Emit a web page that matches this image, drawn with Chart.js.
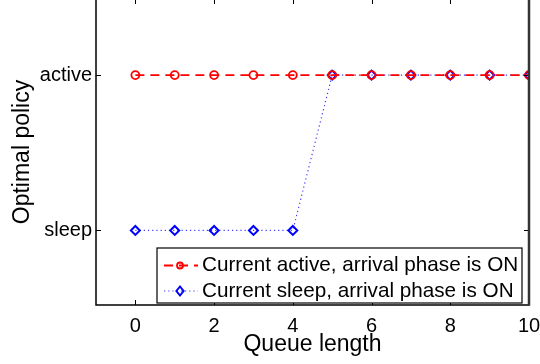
<!DOCTYPE html>
<html>
<head>
<meta charset="utf-8">
<script src="https://cdn.jsdelivr.net/npm/chart.js@4/dist/chart.umd.min.js"></script>
<style>
  html, body { margin: 0; padding: 0; background: #ffffff; }
  #wrap { position: relative; width: 540px; height: 364px; overflow: hidden; background: #fff; }
  #chart { position: absolute; left: 0; top: -4px; }
</style>
</head>
<body>
<div id="wrap"><canvas id="chart" width="540" height="368"></canvas></div>
<script>
// Queue lengths on the x axis
const queueLength = [0, 1, 2, 3, 4, 5, 6, 7, 8, 9, 10];
// Optimal policy: 0 = sleep, 1 = active
const activeOnPolicy = [1, 1, 1, 1, 1, 1, 1, 1, 1, 1, 1];
const sleepOnPolicy  = [0, 0, 0, 0, 0, 1, 1, 1, 1, 1, 1];
// Tick values and labels
const xTickValues = [0, 2, 4, 6, 8, 10];
const yTickValues = [0, 1];
const yTickLabels = ['sleep', 'active'];
const seriesNames = ['Current active, arrival phase is ON', 'Current sleep, arrival phase is ON'];

const FONT = '"Liberation Sans", Arial, Helvetica, sans-serif';

function toPoints(xs, ys) { return xs.map((x, i) => ({ x: x, y: ys[i] })); }

// Box frame with inward tick marks on all four sides
const framePlugin = {
  id: 'frame',
  afterDraw(chart) {
    const { ctx, chartArea: a, scales } = chart;
    const xs = scales.x, ys = scales.y;
    const tl = 5;
    ctx.save();
    ctx.strokeStyle = '#000';
    ctx.lineWidth = 1;
    ctx.beginPath();
    xTickValues.forEach(v => {
      const px = Math.round(xs.getPixelForValue(v)) + 0.5;
      ctx.moveTo(px, a.bottom); ctx.lineTo(px, a.bottom - tl);
      ctx.moveTo(px, a.top); ctx.lineTo(px, a.top + tl);
    });
    yTickValues.forEach(v => {
      const py = Math.round(ys.getPixelForValue(v)) + 0.5;
      ctx.moveTo(a.left, py); ctx.lineTo(a.left + tl, py);
      ctx.moveTo(a.right, py); ctx.lineTo(a.right - tl, py);
    });
    ctx.stroke();
    ctx.lineWidth = 1.5;
    ctx.beginPath();
    ctx.moveTo(a.left, a.top); ctx.lineTo(a.left, a.bottom); ctx.lineTo(a.right, a.bottom);
    ctx.moveTo(a.left, a.top); ctx.lineTo(a.right, a.top);
    ctx.stroke();
    ctx.strokeStyle = '#333';
    ctx.lineWidth = 2.5;
    ctx.beginPath();
    ctx.moveTo(a.right, a.top); ctx.lineTo(a.right, a.bottom + 0.75);
    ctx.stroke();
    ctx.restore();
  }
};

// Small marker used in the legend rows
function legendMarker(c, style, color, radius, width, x, y) {
  c.save();
  c.strokeStyle = color;
  c.lineWidth = width;
  c.setLineDash([]);
  c.beginPath();
  if (style === 'circle') {
    c.arc(x, y, radius, 0, Math.PI * 2);
  } else {
    c.moveTo(x, y - radius); c.lineTo(x + radius * 0.8, y);
    c.lineTo(x, y + radius); c.lineTo(x - radius * 0.8, y);
    c.closePath();
  }
  c.stroke();
  c.restore();
}

// Legend box in the lower right corner of the plot
const legendPlugin = {
  id: 'boxLegend',
  afterDraw(chart) {
    const { ctx, chartArea: a } = chart;
    const x0 = a.left + 61, x1 = a.right - 7;
    const y0 = a.bottom - 57, y1 = a.bottom - 2;
    ctx.save();
    ctx.fillStyle = '#fff';
    ctx.fillRect(x0, y0, x1 - x0, y1 - y0);
    ctx.strokeStyle = '#000';
    ctx.lineWidth = 1.2;
    ctx.strokeRect(x0, y0, x1 - x0, y1 - y0);
    const rows = [y0 + 17.5, y0 + 43];
    chart.data.datasets.forEach((ds, i) => {
      const y = rows[i];
      ctx.save();
      ctx.strokeStyle = ds.borderColor;
      ctx.lineWidth = ds.borderWidth;
      ctx.setLineDash(ds.borderDash);
      ctx.beginPath();
      ctx.moveTo(x0 + 7, y); ctx.lineTo(x0 + 41, y);
      ctx.stroke();
      ctx.restore();
      legendMarker(ctx, ds.pointStyle, ds.pointBorderColor,
                   i === 0 ? 3 : ds.pointRadius, ds.pointBorderWidth, x0 + 23, y);
      ctx.fillStyle = '#000';
      ctx.font = '20.7px ' + FONT;
      ctx.textBaseline = 'middle';
      ctx.textAlign = 'left';
      ctx.fillText(seriesNames[i], x0 + 45, y);
    });
    ctx.restore();
  }
};

new Chart(document.getElementById('chart'), {
  type: 'line',
  data: {
    datasets: [
      {
        label: seriesNames[0],
        data: toPoints(queueLength, activeOnPolicy),
        borderColor: '#ff0000',
        borderWidth: 1.8,
        borderDash: [9, 6],
        pointStyle: 'circle',
        pointRadius: 4,
        pointBorderWidth: 1.8,
        pointBorderColor: '#ff0000',
        pointBackgroundColor: 'rgba(0,0,0,0)',
        tension: 0
      },
      {
        label: seriesNames[1],
        data: toPoints(queueLength, sleepOnPolicy),
        borderColor: '#3b3bff',
        borderWidth: 1.2,
        borderDash: [1.2, 3],
        pointStyle: 'rectRot',
        pointRadius: 4.5,
        pointBorderWidth: 2,
        pointBorderColor: '#0000ff',
        pointBackgroundColor: 'rgba(0,0,0,0)',
        tension: 0
      }
    ]
  },
  options: {
    responsive: false,
    animation: false,
    events: [],
    layout: { autoPadding: false, padding: { top: 3, right: 11, left: 0, bottom: 0 } },
    plugins: { legend: { display: false }, tooltip: { enabled: false } },
    scales: {
      x: {
        type: 'linear',
        min: -1,
        max: 10,
        grid: { display: false, drawTicks: false },
        border: { display: false },
        afterBuildTicks: s => { s.ticks = xTickValues.map(v => ({ value: v })); },
        afterFit: s => { s.height = 59; s.paddingLeft = 0; s.paddingRight = 0; },
        ticks: {
          color: '#000',
          font: { family: FONT, size: 20 },
          padding: 9,
          maxRotation: 0,
          autoSkip: false
        },
        title: {
          display: true,
          text: 'Queue length',
          color: '#000',
          font: { family: FONT, size: 23 },
          padding: { top: 0, bottom: 6 }
        }
      },
      y: {
        type: 'linear',
        min: -0.48,
        max: 1.49,
        grid: { display: false, drawTicks: false },
        border: { display: false },
        afterBuildTicks: s => { s.ticks = yTickValues.map(v => ({ value: v })); },
        afterFit: s => { s.width = 96; s.paddingTop = 0; s.paddingBottom = 0; },
        ticks: {
          color: '#000',
          font: { family: FONT, size: 20 },
          padding: 4,
          callback: v => yTickLabels[yTickValues.indexOf(v)]
        },
        title: {
          display: true,
          text: 'Optimal policy',
          color: '#000',
          font: { family: FONT, size: 23 },
          padding: { top: 9, bottom: 0 }
        }
      }
    }
  },
  plugins: [framePlugin, legendPlugin]
});
</script>
</body>
</html>
